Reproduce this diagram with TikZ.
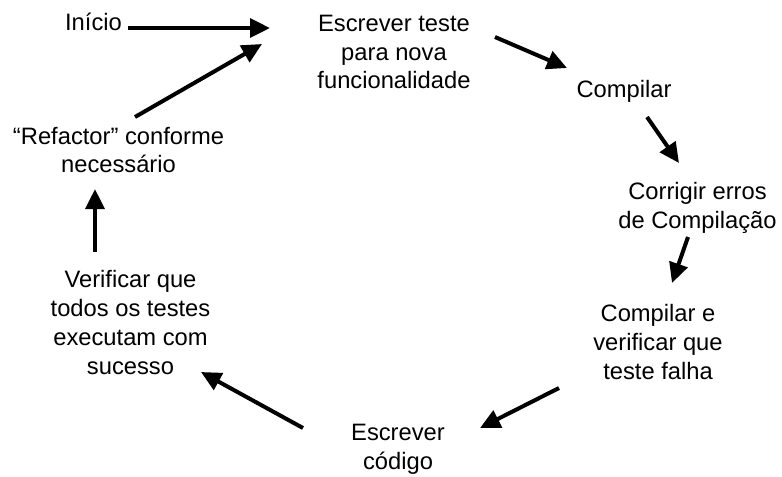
\documentclass[tikz,border=0pt]{standalone}
\usepackage{fontspec}
\setmainfont{Liberation Sans}
\usetikzlibrary{arrows.meta}
\tikzset{
  stage/.style={
    align=center,
    inner sep=0pt,
    font=\fontsize{17.8pt}{21.6pt}\selectfont
  },
  flow/.style={
    line width=3pt,
    -{Triangle[length=15pt,width=14pt]}
  }
}

\begin{document}
\begin{tikzpicture}[x=0.75pt, y=-0.75pt]
  \useasboundingbox (0,0) rectangle (782,476);
  % Stages of the cycle
  \node[stage] (inicio)    at (93.5,22)    {Início};
  \node[stage] (escrever)  at (394,52)     {Escrever teste\\para nova\\funcionalidade};
  \node[stage] (compilar)  at (624,91)     {Compilar};
  \node[stage] (corrigir)  at (697.5,208)  {Corrigir erros\\de Compilação};
  \node[stage] (falha)     at (658,342)    {Compilar e\\verificar que\\teste falha};
  \node[stage] (codigo)    at (398,449)    {Escrever\\código};
  \node[stage] (verificar) at (130.5,322.7) {Verificar que\\todos os testes\\executam com\\sucesso};
  \node[stage] (refactor)  at (118.5,150)  {“Refactor” conforme\\necessário};
  % Arrows
  \draw[flow] ([shift={(34.5,6)}]inicio.center) -- ([shift={(-124,-24)}]escrever.center);
  \draw[flow] ([shift={(16.5,-33)}]refactor.center) -- ([shift={(-132,-8)}]escrever.center);
  \draw[flow] ([shift={(101,-15)}]escrever.center) -- ([shift={(-57,-23)}]compilar.center);
  \draw[flow] ([shift={(23,26)}]compilar.center) -- ([shift={(-18.5,-45)}]corrigir.center);
  \draw[flow] ([shift={(-9.5,29)}]corrigir.center) -- ([shift={(14,-59)}]falha.center);
  \draw[flow] ([shift={(-99,46)}]falha.center) -- ([shift={(82,-21)}]codigo.center);
  \draw[flow] ([shift={(-95,-21)}]codigo.center) -- ([shift={(70.5,49.3)}]verificar.center);
  \draw[flow] ([shift={(-35.5,-70.7)}]verificar.center) -- ([shift={(-23.5,39)}]refactor.center);
\end{tikzpicture}
\end{document}
